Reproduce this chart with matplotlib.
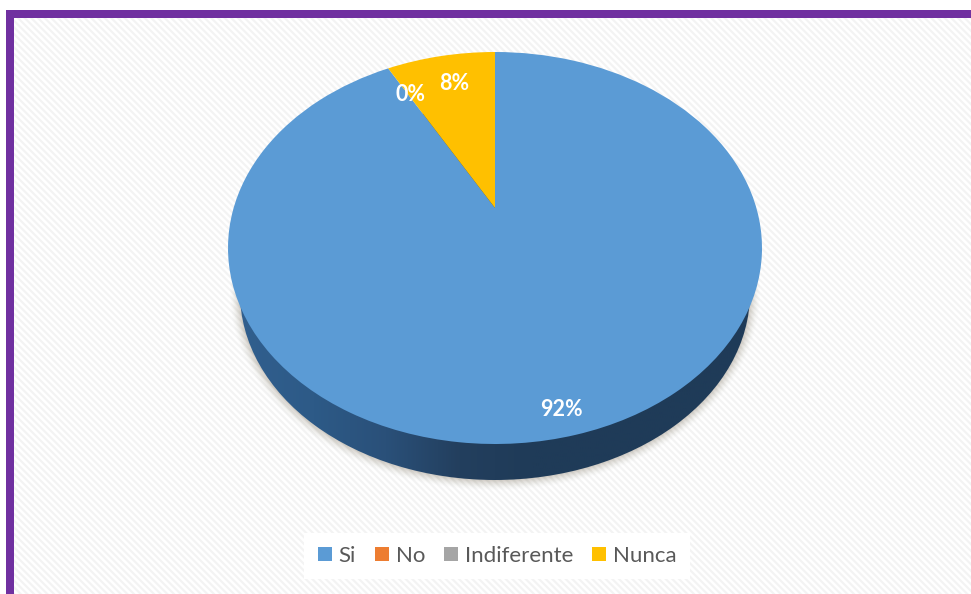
import numpy as np
import matplotlib
matplotlib.use("Agg")
import matplotlib.pyplot as plt
from matplotlib.patches import Rectangle, Ellipse
from matplotlib.transforms import Transform
from matplotlib.colors import LinearSegmentedColormap

categories = ["Si", "No", "Indiferente", "Nunca"]
values = [92, 0, 0, 8]
value_labels = ["92%", "0%", "8%"]
colors = ["#5b9bd5", "#ed7d31", "#a5a5a5", "#ffc000"]

W, H = 971, 594
CX, CY, RX, RY = 495, 248, 267, 196
LOW_CY, LOW_RX, LOW_RY = 293, 255, 187
TILT = (CY - 208) / RY


class Perspective(Transform):
    """Tilts a unit-circle pie so that its centre sits above the ellipse centre."""
    input_dims = output_dims = 2

    def transform_non_affine(self, xy):
        xy = np.asarray(xy, dtype=float)
        d = 1 + TILT * xy[:, 1]
        return np.column_stack((xy[:, 0] * np.sqrt(1 - TILT ** 2) / d,
                                (xy[:, 1] + TILT) / d))


fig = plt.figure(figsize=(W / 100, H / 100), dpi=100, facecolor="white")

plt.rcParams["hatch.linewidth"] = 1.6
fig.add_artist(Rectangle((14 / W, 0), 1 - 14 / W, 1 - 18 / H, transform=fig.transFigure,
                         facecolor="white", edgecolor="#f3f3f3", hatch="\\\\\\\\\\", lw=0, zorder=0))
fig.add_artist(Rectangle((6 / W, 0), 8 / W, 1 - 10 / H, transform=fig.transFigure,
                         facecolor="#7030a0", lw=0, zorder=1))
fig.add_artist(Rectangle((6 / W, 1 - 18 / H), 1 - 6 / W, 8 / H, transform=fig.transFigure,
                         facecolor="#7030a0", lw=0, zorder=1))

ax = fig.add_axes([0, 0, 1, 1])
ax.patch.set_alpha(0)
wedges, _ = ax.pie(values, colors=colors, startangle=90, counterclock=False, radius=1,
                   wedgeprops={"linewidth": 0, "zorder": 5})
ax.set_aspect("auto")
ax.axis("off")

proj = Perspective()
for w in wedges:
    w.set_transform(proj + ax.transData)

low_y = (CY - LOW_CY) / RY
low_w, low_h = 2 * LOW_RX / RX, 2 * LOW_RY / RY

# soft shadow
for grow, a in zip(np.linspace(10, 1, 10), np.linspace(0.008, 0.05, 10)):
    ax.add_patch(Ellipse((0, low_y), low_w + 2 * grow / RX, low_h + 2 * grow / RY,
                         facecolor="#6b5a40", alpha=a, lw=0, zorder=1))

# side wall with horizontal gradient
cmap = LinearSegmentedColormap.from_list(
    "side", ["#315f8e", "#2d5a87", "#2a5079", "#233f5e", "#1f3b58", "#1f3b58", "#1f3b58", "#1f3b58"])
grad = np.linspace(0, 1, 256)[None, :]
im = ax.imshow(grad, cmap=cmap, aspect="auto", zorder=3,
               extent=(-LOW_RX / RX, LOW_RX / RX, low_y - low_h / 2, low_y + low_h / 2))
side = Ellipse((0, low_y), low_w, low_h, facecolor="none", lw=0, zorder=3)
ax.add_patch(side)
im.set_clip_path(side)
ax.set_xlim(-CX / RX, (W - CX) / RX)
ax.set_ylim((CY - H) / RY, CY / RY)

label_pos = [(561, 409), (410, 94), (454, 83)]
for txt, (px, py) in zip(value_labels, label_pos):
    fig.text(px / W, 1 - py / H, txt, color="white", fontsize=15.5, fontweight="bold",
             family="Lato", ha="center", va="center", zorder=10)

leg = fig.legend(handles=wedges, labels=categories, loc="center",
                 bbox_to_anchor=(497 / W, 1 - 556 / H), ncol=4, frameon=True,
                 facecolor="white", edgecolor="none", framealpha=1, fancybox=False,
                 prop={"family": "Lato", "size": 16}, labelcolor="#595959",
                 handlelength=0.64, handleheight=0.6, handletextpad=0.3, columnspacing=0.85,
                 borderpad=0.6, borderaxespad=0)
leg.set_zorder(8)

fig.savefig("out.png", dpi=100)
